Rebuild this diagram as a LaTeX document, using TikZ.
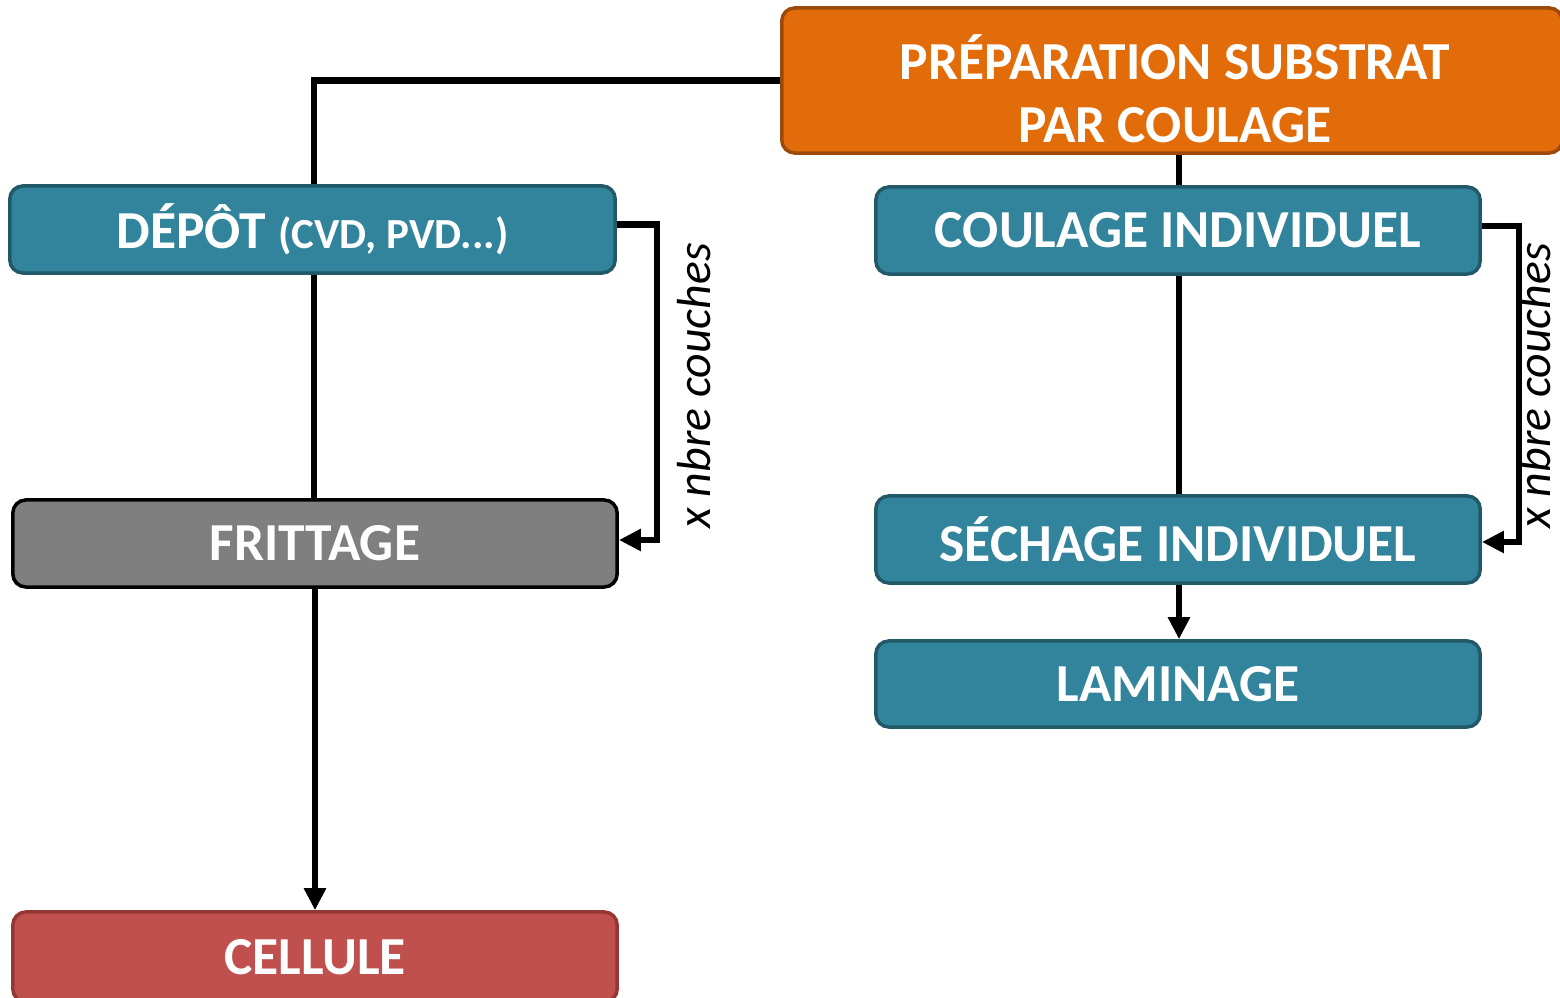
\documentclass[tikz,border=0pt]{standalone}
\usepackage{fontspec}
\setmainfont{Carlito}
\usetikzlibrary{arrows.meta}
\definecolor{orangeF}{HTML}{E36C0A}
\definecolor{orangeD}{HTML}{9C4A0C}
\definecolor{tealF}{HTML}{31849B}
\definecolor{tealD}{HTML}{215968}
\definecolor{grayF}{HTML}{7F7F7F}
\definecolor{redF}{HTML}{C0504D}
\definecolor{redD}{HTML}{943634}
\tikzset{
  box/.style={draw, line width=0.035cm, rounded corners=0.13cm, text=white,
    font=\fontsize{15.2pt}{18pt}\selectfont\bfseries, align=center, inner sep=0pt},
  tealbox/.style={box, fill=tealF, draw=tealD, minimum width=6.04cm, minimum height=0.87cm},
  conn/.style={line width=0.065cm},
  arr/.style={conn, -{Triangle[length=0.22cm,width=0.21cm]}},
  lbl/.style={font=\fontsize{13.6pt}{16pt}\selectfont\itshape, rotate=90, inner sep=0pt},
  boxtext/.style={text=white, font=\fontsize{15.2pt}{17.9pt}\selectfont\bfseries, align=center, inner sep=0pt}
}
\begin{document}
\begin{tikzpicture}[x=0.01cm,y=-0.01cm]
\useasboundingbox (0,0) rectangle (1560,998);
\node[box, fill=orangeF, draw=orangeD, minimum width=7.8cm, minimum height=1.45cm] (prep) at (1172,80.5) {};
\node[boxtext] (prepT) at (1175,89) {PRÉPARATION SUBSTRAT\\PAR COULAGE};
\node[tealbox, minimum width=6.05cm] (depot) at (312.5,229.5)
  {\raisebox{-3pt}{DÉPÔT {\fontsize{12.2pt}{15pt}\selectfont (CVD, PVD...)}}};
\node[box, fill=grayF, draw=black, minimum width=6.04cm, minimum height=0.87cm] (fritt) at (315,543.5) {\raisebox{-2.6pt}{FRITTAGE}};
\node[box, fill=redF, draw=redD, minimum width=6.04cm, minimum height=0.9cm] (cell) at (315,957) {\raisebox{-1pt}{CELLULE}};
\node[tealbox] (coul) at (1178,230.5) {\raisebox{-2.6pt}{COULAGE INDIVIDUEL}};
\node[tealbox] (sech) at (1178,539.5) {\raisebox{-2.6pt}{SÉCHAGE INDIVIDUEL}};
\node[tealbox, minimum height=0.86cm] (lam) at (1178,684) {\raisebox{-2.6pt}{LAMINAGE}};
% connectors
\draw[conn] (prep.west) -| ([xshift=0.015cm]depot.north);
\draw[conn] ([xshift=0.015cm]depot.south) -- ([xshift=0.015cm]depot.south |- fritt.north);
\draw[arr] (fritt.south) -- (cell.north);
\draw[conn] ([xshift=0.01cm]coul.north) -- ([xshift=0.01cm]coul.north |- prep.south);
\draw[conn] ([xshift=0.01cm]coul.south) -- ([xshift=0.01cm]coul.south |- sech.north);
\draw[arr] ([xshift=0.01cm]sech.south) -- ([xshift=0.01cm]sech.south |- lam.north);
% loops
\draw[arr] ([yshift=0.05cm]depot.east) -- ++(40,0) |- ([yshift=0.035cm]fritt.east);
\draw[arr] ([yshift=0.045cm]coul.east) -- ++(37,0) |- ([yshift=-0.025cm]sech.east);
\node[lbl] (lblL) at (694,386) {x nbre couches};
\node[lbl] (lblR) at (1534,386) {x nbre couches};
\end{tikzpicture}
\end{document}
